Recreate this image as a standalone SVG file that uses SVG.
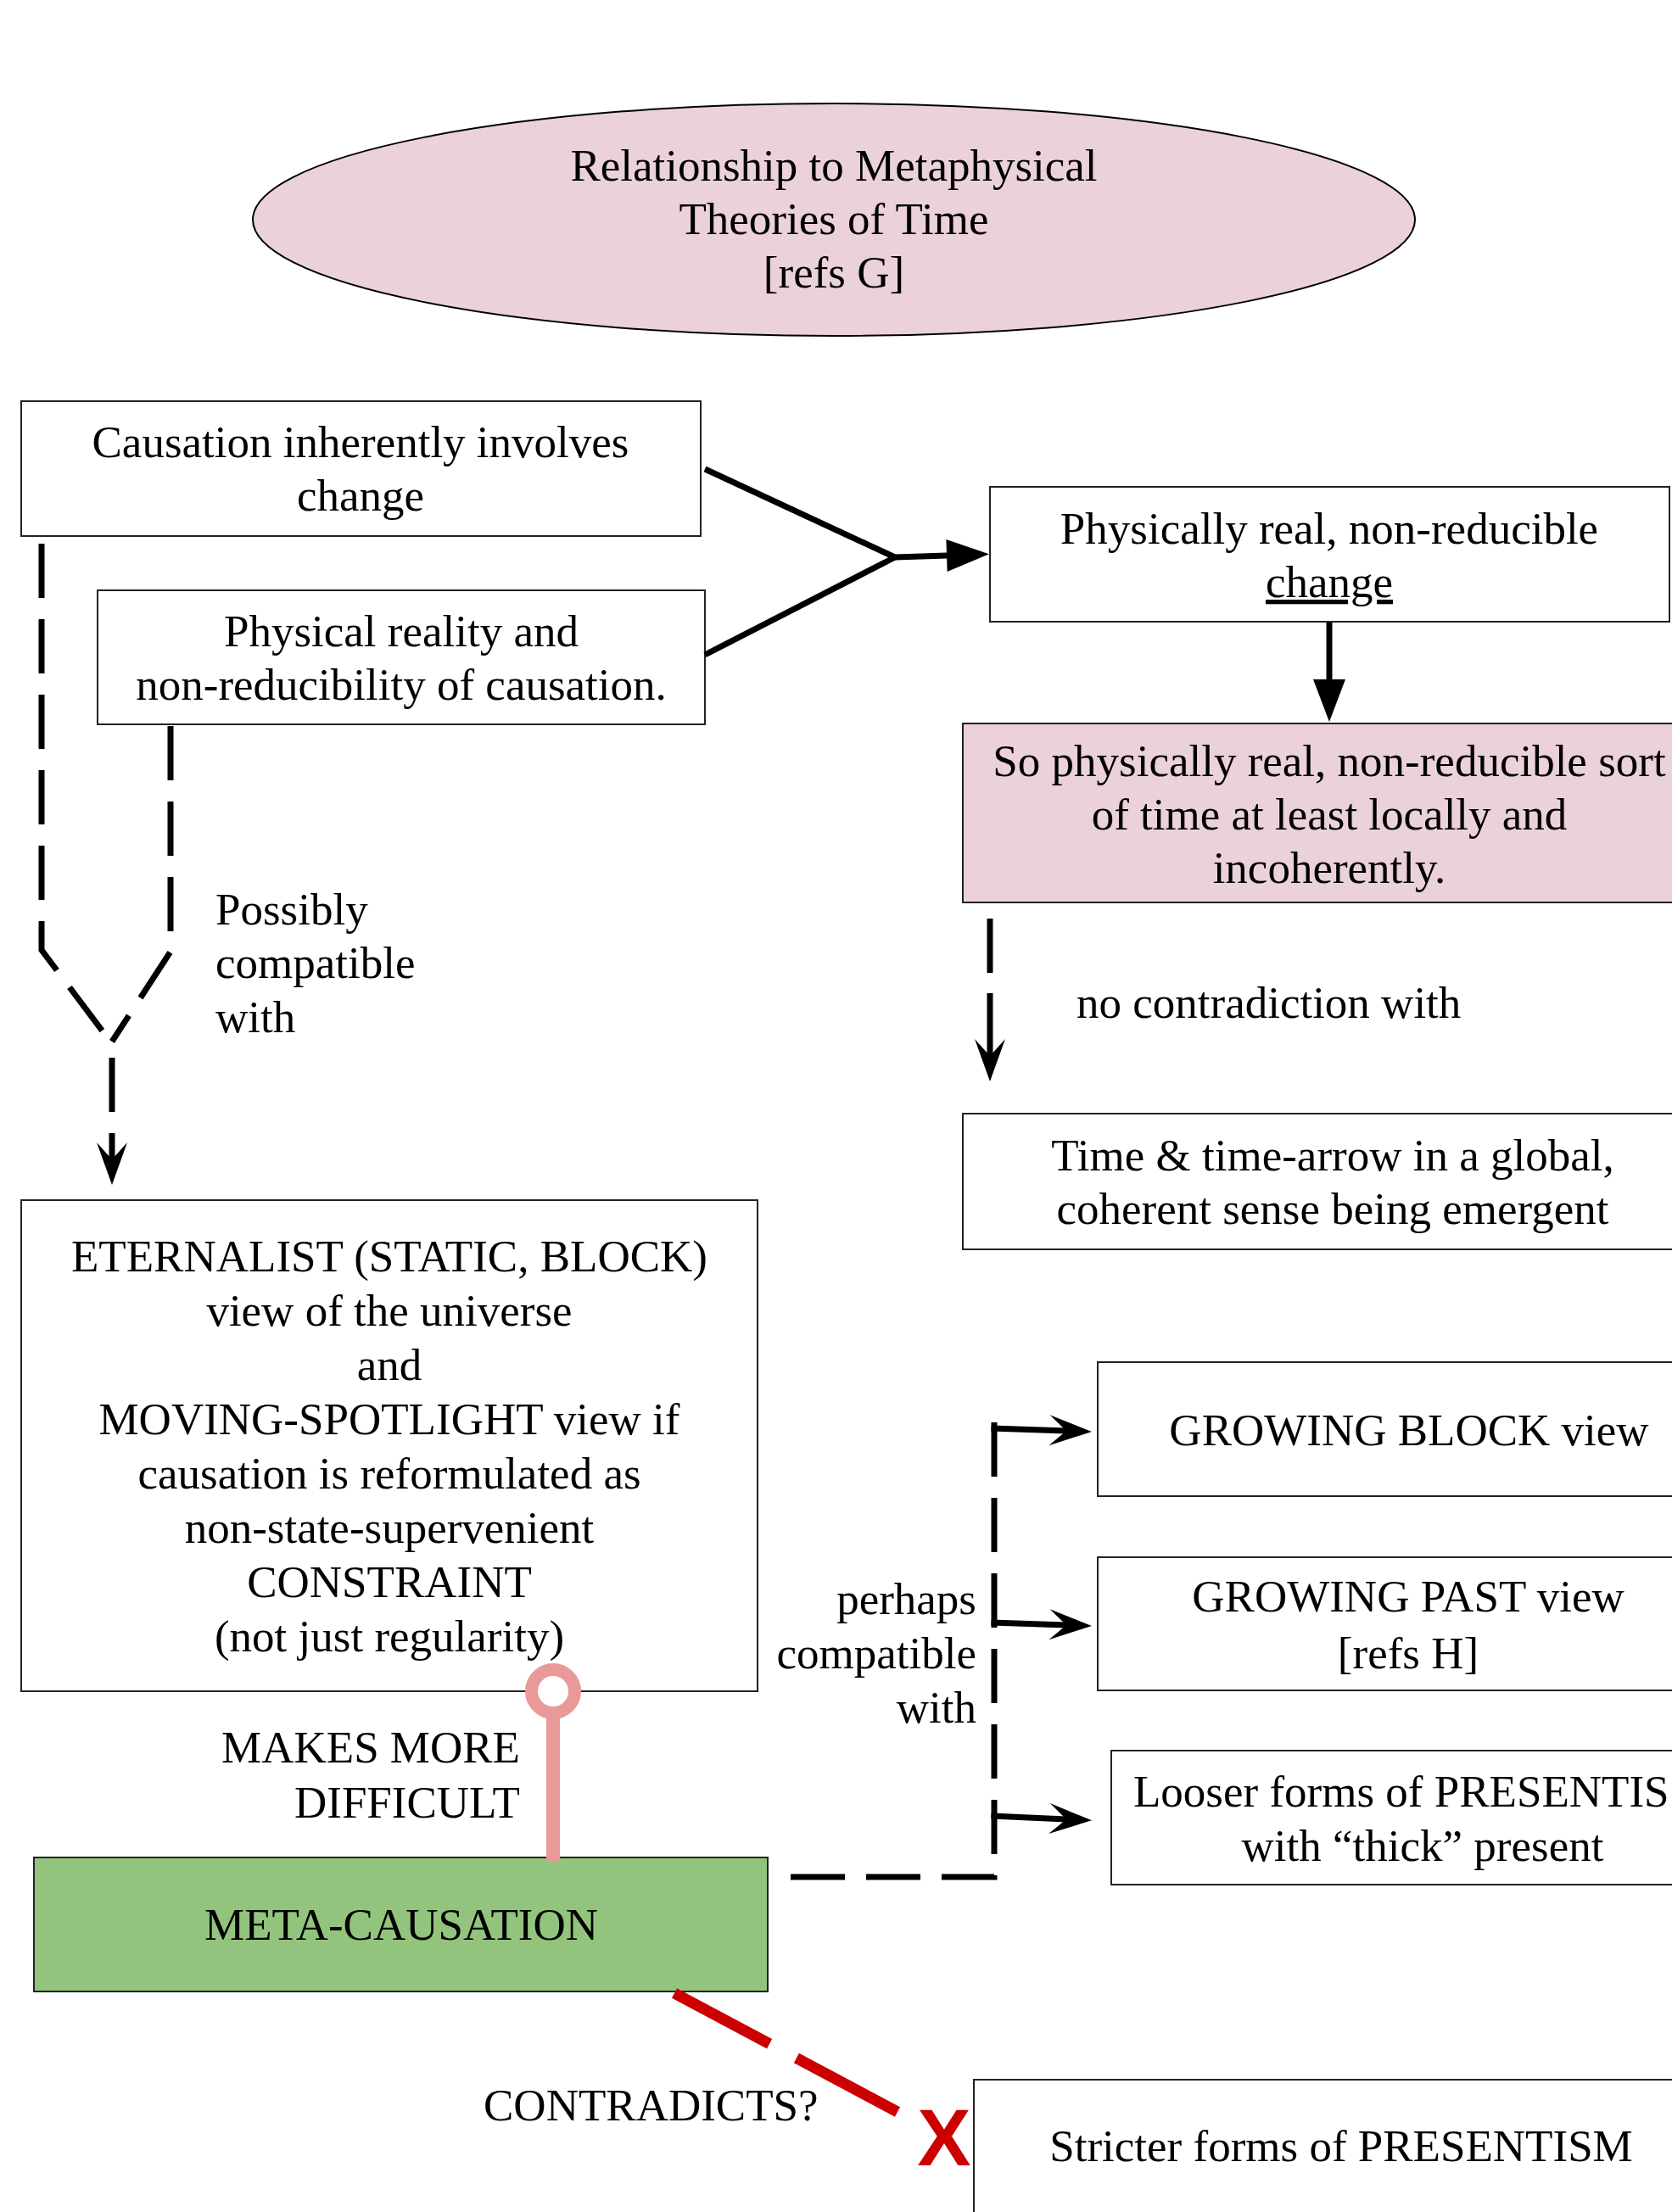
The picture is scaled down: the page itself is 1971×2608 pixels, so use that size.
<svg xmlns="http://www.w3.org/2000/svg" width="1971" height="2608" viewBox="0 0 1971 2608">
<style>
.t{font-family:"Liberation Serif","Times New Roman",serif;font-size:53px;fill:#000}
.m{text-anchor:middle}
.e{text-anchor:end}
.box{fill:#fff;stroke:#222;stroke-width:2}
.pink{fill:#ead1dc;stroke:#222;stroke-width:2}
.green{fill:#93c47d;stroke:#222;stroke-width:2}
.ln{fill:none;stroke:#000;stroke-width:7;stroke-linecap:butt}
.dash{stroke-dasharray:64 25}
</style>
<defs>
<marker id="tri" viewBox="-52 -20 54 40" refX="-50" refY="0" markerWidth="54" markerHeight="40" markerUnits="userSpaceOnUse" orient="auto"><path d="M0,0 L-50,-19 L-50,19 Z" fill="#000"/></marker>
<marker id="stealth" viewBox="-52 -20 54 40" refX="-30" refY="0" markerWidth="54" markerHeight="40" markerUnits="userSpaceOnUse" orient="auto"><path d="M0,0 L-50,-18 L-30,0 L-50,18 Z" fill="#000"/></marker>
</defs>
<rect width="1971" height="2608" fill="#fff"/>

<g id="title">
<ellipse cx="983" cy="259" rx="685" ry="137" fill="#ead1dc" stroke="#000" stroke-width="2"/>
<text class="t m" x="983" y="213">Relationship to Metaphysical</text>
<text class="t m" x="983" y="276">Theories of Time</text>
<text class="t m" x="983" y="339">[refs G]</text>
</g>

<g id="causation-change">
<rect class="box" x="25" y="473" width="801" height="159"/>
<text class="t m" x="425" y="539">Causation inherently involves</text>
<text class="t m" x="425" y="602">change</text>
</g>

<g id="physical-reality">
<rect class="box" x="115" y="696" width="716" height="158"/>
<text class="t m" x="473" y="762">Physical reality and</text>
<text class="t m" x="473" y="825">non-reducibility of causation.</text>
</g>

<g id="real-change">
<rect class="box" x="1167" y="574" width="801" height="159"/>
<text class="t m" x="1567" y="641">Physically real, non-reducible</text>
<text class="t m" x="1567" y="704" text-decoration="underline">change</text>
</g>

<g id="real-time">
<rect class="pink" x="1135" y="853" width="870" height="211"/>
<text class="t m" x="1567" y="915">So physically real, non-reducible sort</text>
<text class="t m" x="1567" y="978">of time at least locally and</text>
<text class="t m" x="1567" y="1041">incoherently.</text>
</g>

<g id="time-emergent">
<rect class="box" x="1135" y="1313" width="880" height="160"/>
<text class="t m" x="1571" y="1380">Time &amp; time-arrow in a global,</text>
<text class="t m" x="1571" y="1443">coherent sense being emergent</text>
</g>

<g id="eternalist">
<rect class="box" x="25" y="1415" width="868" height="579"/>
<text class="t m" x="459" y="1499">ETERNALIST (STATIC, BLOCK)</text>
<text class="t m" x="459" y="1563">view of the universe</text>
<text class="t m" x="459" y="1627">and</text>
<text class="t m" x="459" y="1691">MOVING-SPOTLIGHT view if</text>
<text class="t m" x="459" y="1755">causation is reformulated as</text>
<text class="t m" x="459" y="1819">non-state-supervenient</text>
<text class="t m" x="459" y="1883">CONSTRAINT</text>
<text class="t m" x="459" y="1947">(not just regularity)</text>
</g>

<g id="growing-block">
<rect class="box" x="1294" y="1606" width="740" height="158"/>
<text class="t m" x="1661" y="1704">GROWING BLOCK view</text>
</g>

<g id="growing-past">
<rect class="box" x="1294" y="1836" width="740" height="157"/>
<text class="t m" x="1660" y="1900">GROWING PAST view</text>
<text class="t m" x="1660" y="1967">[refs H]</text>
</g>

<g id="looser-presentism">
<rect class="box" x="1310" y="2064" width="740" height="158"/>
<text class="t" x="1336" y="2130">Looser forms of PRESENTIS</text>
<text class="t m" x="1677" y="2194">with “thick” present</text>
</g>

<g id="meta-causation">
<rect class="green" x="40" y="2190" width="865" height="158"/>
<text class="t m" x="473" y="2287">META-CAUSATION</text>
</g>

<g id="stricter-presentism">
<rect class="box" x="1148" y="2452" width="870" height="200"/>
<text class="t m" x="1581" y="2548">Stricter forms of PRESENTISM</text>
</g>

<g id="connectors">
<path class="ln" d="M831,553 L1055,657 L831,772" stroke-linejoin="miter"/>
<path class="ln" d="M1055,657 L1116,655" marker-end="url(#tri)"/>
<path class="ln" d="M1567,734 V801" stroke-width="5" marker-end="url(#tri)"/>
<path class="ln dash" d="M49,641 V1120 L130,1228"/>
<path class="ln dash" d="M201,856 V1122 L132,1228"/>
<path class="ln dash" d="M132,1247 V1367" marker-end="url(#stealth)"/>
<path class="ln" d="M1167,1083 V1147 M1167,1171 V1245" marker-end="url(#stealth)"/>
<path class="ln dash" d="M1172,1677 V2213 H929"/>
<path class="ln" d="M1168.5,1684 L1257,1687" marker-end="url(#stealth)"/>
<path class="ln" d="M1168.5,1913 L1257,1916" marker-end="url(#stealth)"/>
<path class="ln" d="M1168.5,2141 L1257,2145" marker-end="url(#stealth)"/>
<g id="makes-more-difficult">
<path d="M652,2026 V2195" stroke="#ea9999" stroke-width="16" fill="none"/>
<circle cx="652" cy="1994" r="25.5" fill="#fff" stroke="#ea9999" stroke-width="15"/>
</g>
<path d="M795,2350 L1058,2490" stroke="#cc0000" stroke-width="13" fill="none" stroke-dasharray="127 36 200"/>
<text x="1113" y="2553" text-anchor="middle" font-family="Liberation Sans, Arial, sans-serif" font-weight="bold" font-size="95" fill="#cc0000">X</text>
</g>

<g id="labels">
<text class="t" x="254" y="1090">Possibly</text>
<text class="t" x="254" y="1153">compatible</text>
<text class="t" x="254" y="1217">with</text>
<text class="t" x="1269" y="1200">no contradiction with</text>
<text class="t e" x="1151" y="1903">perhaps</text>
<text class="t e" x="1151" y="1967">compatible</text>
<text class="t e" x="1151" y="2031">with</text>
<text class="t e" x="613" y="2078">MAKES MORE</text>
<text class="t e" x="613" y="2143">DIFFICULT</text>
<text class="t" x="570" y="2500">CONTRADICTS?</text>
</g>
</svg>
